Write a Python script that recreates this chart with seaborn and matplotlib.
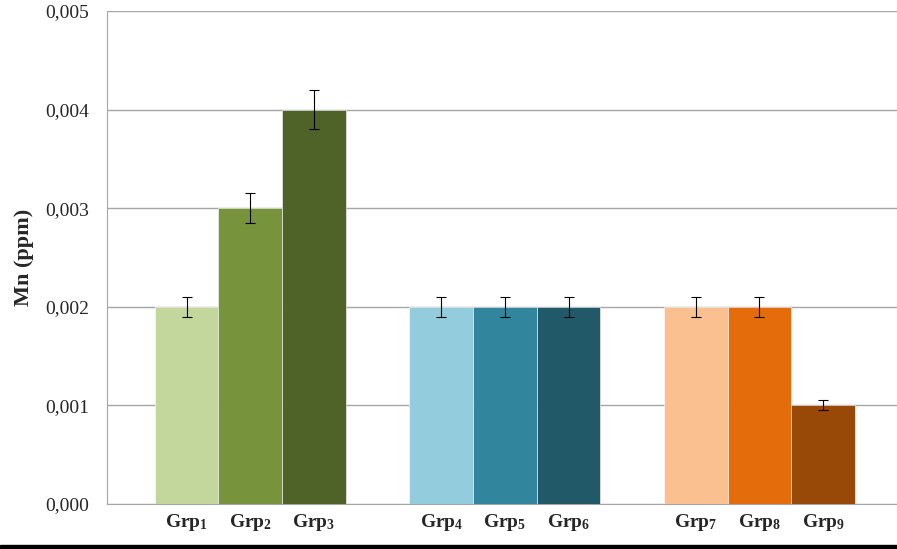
import matplotlib
matplotlib.use('Agg')
import matplotlib.pyplot as plt
import seaborn as sns
from matplotlib.patches import Rectangle
from matplotlib.ticker import FuncFormatter

# donnees
names = ['Grp1', 'Grp2', 'Grp3', 'Grp4', 'Grp5', 'Grp6', 'Grp7', 'Grp8', 'Grp9']
values = [0.002, 0.003, 0.004, 0.002, 0.002, 0.002, 0.002, 0.002, 0.001]
errors = [0.0001, 0.00015, 0.0002, 0.0001, 0.0001, 0.0001, 0.0001, 0.0001, 0.00005]
colors = ['#c3d69b', '#77933c', '#4f6228',
          '#93cddd', '#31859c', '#215968',
          '#fac090', '#e46c0a', '#984807']
yticks = [0, 0.001, 0.002, 0.003, 0.004, 0.005]

sns.set_style('white')
plt.rcParams['font.family'] = ['Liberation Serif', 'DejaVu Serif']
plt.rcParams['mathtext.fontset'] = 'custom'
plt.rcParams['mathtext.rm'] = 'Liberation Serif:bold'
plt.rcParams['mathtext.bf'] = 'Liberation Serif:bold'
plt.rcParams['mathtext.it'] = 'Liberation Serif:bold'

# ordre avec des cases vides entre les groupes
order = names[0:3] + [' '] + names[3:6] + ['  '] + names[6:9]

fig = plt.figure(figsize=(8.97, 5.49), dpi=100)
ax = fig.add_axes([107 / 897, 45 / 549, 1 - 107 / 897, 493 / 549])

sns.barplot(x=names, y=values, hue=names, palette=colors, order=order,
            width=1, saturation=1, legend=False, ax=ax,
            edgecolor='white', linewidth=0.4, zorder=3)

pos = [order.index(n) for n in names]
ax.errorbar(pos, values, yerr=errors, fmt='none', ecolor='black',
            elinewidth=0.8, capsize=3.5, capthick=0.8, zorder=4)

ax.set_ylim(0, 0.005)
ax.set_yticks(yticks)
ax.yaxis.set_major_formatter(FuncFormatter(lambda v, p: f'{v:.3f}'.replace('.', ',')))
ax.set_xlim(-1.25, 11.16)

ax.set_xticks(pos)
ax.set_xticklabels([r'$\mathbf{Grp}_{%s}$' % n[3:] for n in names])
ax.tick_params(axis='x', length=0, pad=6, labelsize=14)
ax.tick_params(axis='y', length=0, pad=13, labelsize=14)

ax.grid(axis='y', color='#a6a6a6', linewidth=1, zorder=0)
ax.set_axisbelow(True)
ax.set_xlabel('')
ax.set_ylabel('Mn (ppm)', fontsize=16, fontweight='bold', labelpad=8)

for side in ['top', 'right']:
    ax.spines[side].set_visible(False)
ax.spines['left'].set_color('#a6a6a6')
ax.spines['bottom'].set_color('#a6a6a6')

# bande noire en bas de l'image
fig.patches.append(Rectangle((0, 0), 1, 4 / 549, transform=fig.transFigure,
                             color='black', zorder=10))

fig.savefig('out.png', dpi=100)
